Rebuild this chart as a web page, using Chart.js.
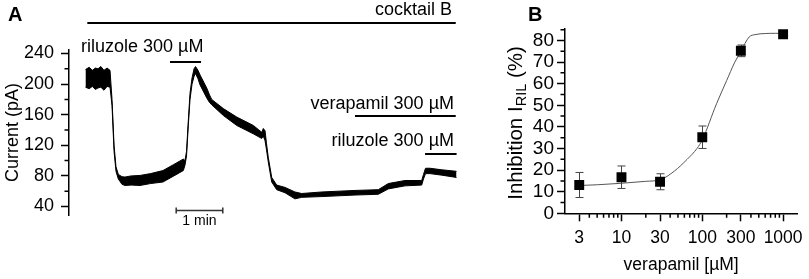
<!DOCTYPE html>
<html><head><meta charset="utf-8">
<script src="https://cdn.jsdelivr.net/npm/chart.js@4.4.1/dist/chart.umd.min.js"></script>
<style>
html,body{margin:0;padding:0;background:#fff;}
#wrap{position:relative;width:809px;height:279px;overflow:hidden;background:#fff;}
canvas{position:absolute;top:0;}
#ca{left:0;} #cb{left:470px;}
</style></head><body>
<div id="wrap">
<canvas id="ca" width="470" height="279"></canvas>
<canvas id="cb" width="339" height="279"></canvas>
</div>
<script>
// ---------- Panel A data (time in s, current in pA: upper / lower envelope of the noisy trace)
const traceTime = [21.2, 26, 30, 34, 37.3, 41, 45, 49, 52.8, 55.4, 58, 60.5, 63.5, 68.2, 72.1, 80, 91.4, 105, 121, 135, 147.2, 149.3, 151.3, 153.6, 155.8, 158.4, 161, 162.9, 166.1, 168.7, 177.3, 180.9, 183.7, 198.7, 215.9, 237.3, 248.1, 250.2, 252.4, 254.3, 256.6, 261, 267.4, 278.1, 290.9, 299.6, 325.4, 368.2, 398.2, 411.1, 432.6, 454.1, 456.4, 459, 464.8, 479.9, 498.9];
const traceUpper = [219,222,218,221,220,223,218,221,218,180,120,92,82,79,78.5,80,80.6,83,87,95,102,100,112,152,188,208,220,223,218,212,195,186,180,168,157,146,137,142,139,122,104,78,68,65,59,57,59,61,62,70,74,74,82,90,90,88,86];
const traceLower = [196,194,197,193,195,196,192,197,196,172,112,86,76,69,67.5,68,67.5,70,72,80,87,94,106,146,180,200,210,214,207,199,182,176,173,159,146,135,129,132,126,114,98,72,62,58,50,52,53,55,56,63,67,68,76,83,83,81,78];
const aYTicks = [40, 80, 120, 160, 200, 240];
const aYMinorTicks = [60, 100, 140, 180, 220];
const drugLabels = ['cocktail B', 'riluzole 300 µM', 'verapamil 300 µM', 'riluzole 300 µM'];
const drugStart = [23.6, 130, 368.2, 458.4];
const drugEnd = [497.9, 170, 497.9, 499];
const scaleBarStart = 138, scaleBarEnd = 198, scaleBarLabel = '1 min';

// ---------- Panel B data
const conc = [3, 10, 30, 100, 300, 1000];
const inhibition = [13.1, 16.7, 14.6, 35.2, 75.2, 82.9];
const inhibitionErr = [5.8, 5.2, 3.7, 5.2, 2.7, 0.8];
const fitConc = [2.7, 5, 10, 20, 30, 45, 65, 86, 100, 150, 200, 250, 300, 380, 450, 600, 800, 1000];
const fitInhibition = [12.8, 13.2, 13.9, 14.8, 15.5, 19.5, 25, 30, 34, 50.7, 61.4, 69.6, 75, 81.6, 82.7, 83.2, 83.3, 83.3];
const bYTicks = [0, 10, 20, 30, 40, 50, 60, 70, 80];
const bYMinorTicks = [5, 15, 25, 35, 45, 55, 65, 75, 85];
const bXTicks = [3, 10, 30, 100, 300, 1000];
const bXMinorTicks = [4, 5, 6, 7, 8, 9, 20, 40, 50, 60, 70, 80, 90, 200, 400, 500, 600, 700, 800, 900];

const FONT = "'Liberation Sans', Arial, sans-serif";

// layout of the annotation bars in panel A (pixels)
const drugLayout = [
  {barY: 23, textX: 452, textY: 10, align: 'right'},
  {barY: 62, textX: 81, textY: 47, align: 'left'},
  {barY: 116, textX: 454, textY: 104, align: 'right'},
  {barY: 154, textX: 454, textY: 141.5, align: 'right'}
];

function minorTickPlugin(id, axisId, values, len, horizontal) {
  return {
    id,
    afterDraw(chart) {
      const s = chart.scales[axisId];
      const ctx = chart.ctx;
      ctx.save();
      ctx.strokeStyle = '#000';
      ctx.lineWidth = 1.5;
      ctx.beginPath();
      values.forEach(v => {
        if (v < s.min || v > s.max) return;
        const p = s.getPixelForValue(v);
        if (horizontal) {
          ctx.moveTo(p, s.top); ctx.lineTo(p, s.top + len);
        } else {
          ctx.moveTo(s.right, p); ctx.lineTo(s.right - len, p);
        }
      });
      ctx.stroke();
      ctx.restore();
    }
  };
}

// ---------------- Panel A
const annoPlugin = {
  id: 'anno',
  afterDraw(chart) {
    const {ctx} = chart;
    const x = chart.scales.x;
    ctx.save();
    ctx.fillStyle = '#000';
    ctx.strokeStyle = '#000';
    ctx.font = `18px ${FONT}`;
    ctx.textBaseline = 'middle';
    drugLabels.forEach((lab, i) => {
      const L = drugLayout[i];
      ctx.lineWidth = 2;
      ctx.beginPath();
      ctx.moveTo(x.getPixelForValue(drugStart[i]), L.barY);
      ctx.lineTo(x.getPixelForValue(drugEnd[i]), L.barY);
      ctx.stroke();
      ctx.textAlign = L.align;
      ctx.fillText(lab, L.textX, L.textY);
    });
    // scale bar
    const sbY = 210.5;
    const x0 = x.getPixelForValue(scaleBarStart), x1 = x.getPixelForValue(scaleBarEnd);
    ctx.strokeStyle = '#333';
    ctx.lineWidth = 1.5;
    ctx.beginPath();
    ctx.moveTo(x0, sbY); ctx.lineTo(x1, sbY);
    ctx.moveTo(x0, sbY - 3); ctx.lineTo(x0, sbY + 3);
    ctx.moveTo(x1, sbY - 3); ctx.lineTo(x1, sbY + 3);
    ctx.stroke();
    ctx.font = `14px ${FONT}`;
    ctx.textAlign = 'center';
    ctx.fillText(scaleBarLabel, (x0 + x1) / 2, 221);
    // panel letter
    ctx.font = `bold 20px ${FONT}`;
    ctx.textAlign = 'left';
    ctx.textBaseline = 'alphabetic';
    ctx.fillText('A', 8, 21);
    ctx.restore();
  }
};

new Chart(document.getElementById('ca'), {
  type: 'line',
  data: {
    datasets: [
      {data: traceTime.map((t, i) => ({x: t, y: traceUpper[i]})), borderColor: '#000', backgroundColor: '#000', borderWidth: 1, pointRadius: 0, fill: '+1', tension: 0},
      {data: traceTime.map((t, i) => ({x: t, y: traceLower[i]})), borderColor: '#000', backgroundColor: '#000', borderWidth: 1, pointRadius: 0, fill: false, tension: 0}
    ]
  },
  options: {
    responsive: false, animation: false, devicePixelRatio: 1,
    layout: {padding: {left: 0, right: 10, top: 50, bottom: 64}},
    plugins: {legend: {display: false}, tooltip: {enabled: false}},
    scales: {
      x: {type: 'linear', display: false, min: 0, max: 503.4},
      y: {
        min: 28.9, max: 244.6,
        afterBuildTicks: s => { s.ticks = aYTicks.map(v => ({value: v})); },
        afterFit: s => { s.width = 69; },
        grid: {drawOnChartArea: false, drawTicks: true, tickLength: 8, tickColor: '#000', tickWidth: 1.5, color: '#000'},
        border: {display: true, color: '#000', width: 1.5},
        ticks: {color: '#000', font: {family: FONT, size: 18}, padding: 7, autoSkip: false},
        title: {display: true, text: 'Current (pA)', color: '#000', font: {family: FONT, size: 18}, padding: {top: 2, bottom: 0}}
      }
    }
  },
  plugins: [annoPlugin, minorTickPlugin('minA', 'y', aYMinorTicks, 4.5, false)]
});

// ---------------- Panel B
const errPlugin = {
  id: 'err',
  beforeDatasetsDraw(chart) {
    const {ctx} = chart;
    const x = chart.scales.x, y = chart.scales.y;
    ctx.save();
    ctx.strokeStyle = '#444';
    ctx.lineWidth = 1;
    ctx.beginPath();
    conc.forEach((c, i) => {
      const px = Math.round(x.getPixelForValue(c)) + 0.5;
      const yt = y.getPixelForValue(inhibition[i] + inhibitionErr[i]);
      const yb = y.getPixelForValue(inhibition[i] - inhibitionErr[i]);
      ctx.moveTo(px, yt); ctx.lineTo(px, yb);
      ctx.moveTo(px - 4, yt); ctx.lineTo(px + 4, yt);
      ctx.moveTo(px - 4, yb); ctx.lineTo(px + 4, yb);
    });
    ctx.stroke();
    ctx.restore();
  },
  afterDraw(chart) {
    const {ctx} = chart;
    ctx.save();
    ctx.fillStyle = '#000';
    ctx.font = `bold 20px ${FONT}`;
    ctx.textBaseline = 'alphabetic';
    ctx.fillText('B', 58, 21);
    // rotated y-axis title with subscript
    const cx = 46, cy = 123;
    ctx.translate(cx, cy);
    ctx.rotate(-Math.PI / 2);
    const big = `20.5px ${FONT}`, small = `14.5px ${FONT}`;
    const parts = [['Inhibition I', big, 0], ['RIL', small, 5.5], [' (%)', big, 0]];
    let total = 0;
    parts.forEach(p => { ctx.font = p[1]; total += ctx.measureText(p[0]).width; });
    let xx = -total / 2;
    ctx.textBaseline = 'middle';
    parts.forEach(p => { ctx.font = p[1]; ctx.fillText(p[0], xx, p[2]); xx += ctx.measureText(p[0]).width; });
    ctx.restore();
  }
};

new Chart(document.getElementById('cb'), {
  type: 'line',
  data: {
    datasets: [
      {data: conc.map((c, i) => ({x: c, y: inhibition[i]})), showLine: false, pointStyle: 'rect', pointRadius: 7, pointBackgroundColor: '#000', pointBorderColor: '#000', pointBorderWidth: 0, order: 0},
      {data: fitConc.map((c, i) => ({x: c, y: fitInhibition[i]})), borderColor: '#555', borderWidth: 1, pointRadius: 0, tension: 0.4, cubicInterpolationMode: 'monotone', order: 1}
    ]
  },
  options: {
    responsive: false, animation: false, devicePixelRatio: 1,
    layout: {padding: {left: 0, right: 7, top: 29, bottom: 0}},
    plugins: {legend: {display: false}, tooltip: {enabled: false}},
    scales: {
      x: {
        type: 'logarithmic', min: 2, max: 1500,
        afterBuildTicks: s => { s.ticks = bXTicks.map(v => ({value: v})); },
        afterFit: s => { s.height = 65.7; },
        grid: {drawOnChartArea: false, drawTicks: true, tickLength: 8, tickColor: '#000', tickWidth: 1.5, color: '#000'},
        border: {display: true, color: '#000', width: 1.5},
        ticks: {color: '#000', font: {family: FONT, size: 17.5}, padding: 6, maxRotation: 0, autoSkip: false, callback: v => String(v)},
        title: {display: true, text: 'verapamil [µM]', color: '#000', font: {family: FONT, size: 17.5}, padding: {top: 0, bottom: 3}}
      },
      y: {
        min: 0, max: 85.3,
        afterBuildTicks: s => { s.ticks = bYTicks.map(v => ({value: v})); },
        afterFit: s => { s.width = 95; },
        grid: {drawOnChartArea: false, drawTicks: true, tickLength: 8, tickColor: '#000', tickWidth: 1.5, color: '#000'},
        border: {display: true, color: '#000', width: 1.5},
        ticks: {color: '#000', font: {family: FONT, size: 19}, padding: 3, autoSkip: false}
      }
    }
  },
  plugins: [errPlugin, minorTickPlugin('minBy', 'y', bYMinorTicks, 4.5, false), minorTickPlugin('minBx', 'x', bXMinorTicks, 4.5, true)]
});
</script>
</body></html>
